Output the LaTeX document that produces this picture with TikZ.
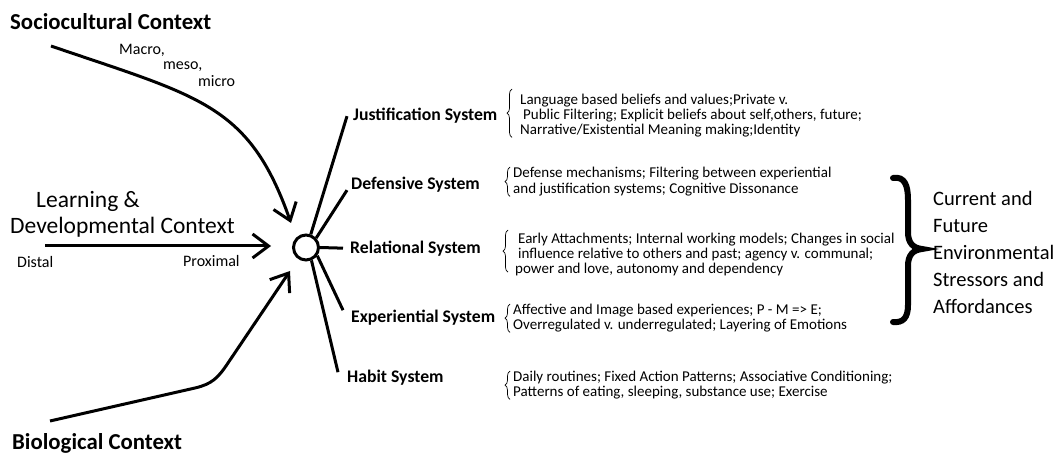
\documentclass[tikz,border=0pt]{standalone}
\usepackage{fontspec}
\setmainfont{Carlito}
\usetikzlibrary{arrows.meta,decorations.pathreplacing}
\begin{document}
\begin{tikzpicture}[x=1pt,y=-1pt,
  wire/.style={line width=3pt},
  feed/.style={wire,-{Straight Barb[length=16pt,width=24pt]}},
  ctxhead/.style={inner sep=0,anchor=base west,font=\fontsize{22.8}{26}\selectfont\bfseries},
  ctxbig/.style={inner sep=0,anchor=base west,font=\fontsize{23.5}{27}\selectfont},
  ctxsmall/.style={inner sep=0,anchor=base west,font=\fontsize{16}{18}\selectfont},
  sysname/.style={inner sep=0,anchor=base west,font=\fontsize{17.7}{20}\selectfont\bfseries},
  detail/.style={inner sep=0,anchor=north west,align=left},
  sbrace/.style={decorate,decoration={brace,amplitude=5pt},line width=0.7pt},
]
\useasboundingbox (0,0) rectangle (1058,454);

% context headings
\node[ctxhead] (soc) at (10,30) {Sociocultural Context};
\node[ctxbig] (learn) at (36,208) {Learning \&};
\node[ctxbig] (devel) at (10,234) {Developmental Context};
\node[ctxhead] (bio) at (12,449) {Biological Context};

\node[ctxsmall] (macro) at (119,55) {Macro,};
\node[ctxsmall] (meso) at (163,70) {meso,};
\node[ctxsmall] (micro) at (198,87) {micro};
\node[ctxsmall] (distal) at (17,268) {Distal};
\node[ctxsmall] (proximal) at (183,267) {Proximal};

% central hub
\node[draw,circle,line width=3pt,minimum size=25pt,inner sep=0] (hub) at (306,247.5) {};

% incoming influences
\coordinate (socS) at (51,46);
\coordinate (socE) at (291,223);
\coordinate (devS) at (45,246);
\coordinate (devE) at (271,246);
\coordinate (bioS) at (50,421);
\coordinate (bioE) at (290,271);
\draw[feed] (socS) .. controls (200,97) and (249,104) .. (socE);
\draw[feed] (devS) -- (devE);
\draw[feed] (bioS) -- (195,388) .. controls (212,384) and (218,378) .. (228,363) -- (bioE);

% systems
\node[sysname] (jus) at (353,121) {Justification System};
\node[sysname] (def) at (351,190) {Defensive System};
\node[sysname] (rel) at (350,254) {Relational System};
\node[sysname] (exp) at (351,323) {Experiential System};
\node[sysname] (hab) at (347,383) {Habit System};

\draw[wire] (hub.70) -- ([xshift=-6pt]jus.west);
\draw[wire] (hub.43) -- ([xshift=-4pt,yshift=-5pt]def.west);
\draw[wire] (hub.east) -- ([xshift=-7pt,yshift=1pt]rel.west);
\draw[wire] (hub.-36) -- ([xshift=-8pt,yshift=8pt]exp.west);
\draw[wire] (hub.-67) -- ([xshift=-9pt,yshift=6pt]hab.west);

% descriptions
\begin{scope}[font=\fontsize{15}{15}\selectfont]
\node[detail] (jusd) at (520,94) {Language based beliefs and values;Private v.\\
  \hspace{3pt}Public Filtering; Explicit beliefs about self,others, future;\\
  Narrative/Existential Meaning making;Identity};
\node[detail,font=\fontsize{15}{16}\selectfont] (defd) at (513,167) {Defense mechanisms; Filtering between experiential\\
  and justification systems; Cognitive Dissonance};
\node[detail] (reld) at (515,233) {\hspace{3pt}Early Attachments; Internal working models; Changes in social\\
  \hspace{3pt}influence relative to others and past; agency v. communal;\\
  power and love, autonomy and dependency};
\node[detail] (expd) at (513,304) {Affective and Image based experiences; P - M => E;\\
  Overregulated v. underregulated; Layering of Emotions};
\node[detail] (habd) at (513,371) {Daily routines; Fixed Action Patterns; Associative Conditioning;\\
  Patterns of eating, sleeping, substance use; Exercise};
\end{scope}

\draw[sbrace] ([xshift=-8pt]jusd.south west) -- ([xshift=-8pt,yshift=5pt]jusd.north west);
\draw[sbrace] ([xshift=-3pt]defd.south west) -- ([xshift=-3pt]defd.north west);
\draw[sbrace] ([xshift=-7pt,yshift=4pt]reld.south west) -- ([xshift=-7pt,yshift=3pt]reld.north west);
\draw[sbrace] ([xshift=-3pt]expd.south west) -- ([xshift=-3pt]expd.north west);
\draw[sbrace] ([xshift=-3pt]habd.south west) -- ([xshift=-3pt]habd.north west);

% environment brace
\draw[line width=6pt,line cap=round]
  (893,178) .. controls (905,176) and (908,186) .. (908,200) -- (908,232)
  .. controls (908,243) and (913,248) .. (922,249)
  .. controls (913,250) and (908,255) .. (908,266) -- (908,305)
  .. controls (908,318) and (903,323) .. (893,322);

\node[detail,font=\fontsize{20.5}{27}\selectfont] (env) at (933,191)
  {Current and\\Future\\Environmental\\Stressors and\\Affordances};
\end{tikzpicture}
\end{document}
